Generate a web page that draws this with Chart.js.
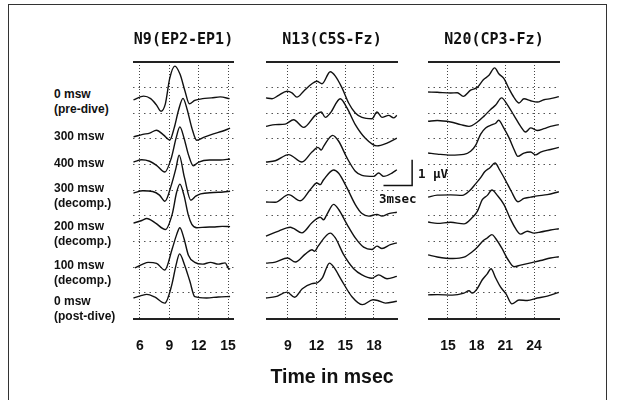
<!DOCTYPE html>
<html>
<head>
<meta charset="utf-8">
<script src="https://cdn.jsdelivr.net/npm/chart.js@4.4.1/dist/chart.umd.min.js"></script>
<style>
  body { margin: 0; background: #fff; }
  #page { position: relative; width: 617px; height: 400px; overflow: hidden; background: #fff; }
  #frame { position: absolute; left: 8px; top: 4px; width: 599px; height: 430px; border: 1.5px solid #333; box-sizing: border-box; }
  canvas { position: absolute; top: 0; }
  .row { position: absolute; left: 54px; font: bold 12px 'Liberation Sans', Arial, sans-serif; line-height: 15px; color: #111; white-space: nowrap; }
  .note { position: absolute; font: bold 12.5px 'DejaVu Sans Mono', monospace; color: #111; white-space: nowrap; }
</style>
</head>
<body>
<div id="page">
  <div id="frame"></div>
  <canvas id="n9" width="141" height="400" style="left:113px"></canvas>
  <canvas id="n13" width="172" height="400" style="left:246px"></canvas>
  <canvas id="n20" width="172" height="400" style="left:408px"></canvas>
  <div class="note" style="left:418px; top:166px">1 &mu;V</div>
  <div class="note" style="left:379px; top:191px">3msec</div>
</div>
<script>
// labels
const panelTitles = ['N9(EP2-EP1)', 'N13(C5S-Fz)', 'N20(CP3-Fz)'];
const rowLabels = [
  ['0 msw', '(pre-dive)'], ['300 msw'], ['400 msw'], ['300 msw', '(decomp.)'],
  ['200 msw', '(decomp.)'], ['100 msw', '(decomp.)'], ['0 msw', '(post-dive)']
];
const n9Ticks = [6, 9, 12, 15];
const n13Ticks = [9, 12, 15, 18];
const n20Ticks = [15, 18, 21, 24];
const gridRows = [0, 1, 2, 3, 4, 5, 6, 7, 8, 9, 10];

// N9: time (msec) and amplitude (uV) for each trace, stacked on a baseline
const n9Baselines = [8.52, 7.08, 6.10, 4.89, 3.72, 1.97, 0.80];
const n9Times = [
  [5.35, 6.4, 7.1, 7.7, 8.15, 8.6, 9.05, 9.57, 10.1, 10.6, 11.05, 11.6, 12.4, 13.3, 14.2, 15.15],
  [5.35, 6.3, 7.0, 7.7, 8.4, 9.05, 9.5, 9.95, 10.4, 10.8, 11.3, 11.8, 12.5, 13.5, 14.4, 15.2],
  [5.35, 6.2, 7.0, 7.7, 8.55, 9.2, 9.7, 10.08, 10.5, 10.95, 11.45, 12.0, 13.1, 14.2, 15.2],
  [5.35, 6.3, 7.3, 8.0, 8.55, 9.2, 9.7, 10.0, 10.55, 11.2, 11.7, 12.2, 13.5, 14.5, 15.2],
  [5.35, 6.2, 6.7, 7.6, 8.6, 9.3, 9.75, 10.08, 10.5, 10.95, 11.3, 11.8, 12.7, 13.5, 14.4, 15.2],
  [5.5, 6.3, 6.85, 7.7, 8.55, 9.3, 9.75, 10.08, 10.5, 10.95, 11.6, 12.4, 13.2, 14.0, 14.7, 15.0, 15.2],
  [5.35, 6.2, 6.7, 7.5, 8.55, 9.25, 9.7, 10.05, 10.55, 11.1, 11.6, 12.8, 14.0, 15.2]
];
const n9Values = [
  [0, 0.15, 0.05, -0.2, -0.44, -0.15, 0.85, 1.32, 1.0, 0.35, -0.15, -0.02, 0.05, 0.08, 0.12, 0.05],
  [0, 0.1, 0.15, 0.26, 0.08, -0.12, 0.35, 1.05, 1.5, 1.1, 0.35, -0.13, -0.02, 0.12, 0.22, 0.34],
  [0, 0.09, 0.03, -0.13, -0.39, 0.15, 0.94, 1.37, 0.94, 0.29, -0.15, 0, 0.08, 0.08, 0.12],
  [0, 0.09, 0.06, -0.08, -0.32, 0.3, 1.0, 1.48, 0.6, -0.28, -0.12, -0.03, 0.02, 0.04, 0.07],
  [0, 0.1, 0.18, 0.0, -0.25, 0.35, 1.2, 1.52, 1.08, 0.3, -0.05, -0.18, -0.16, -0.15, -0.13, -0.14],
  [0, 0.15, 0.22, 0.18, -0.08, 0.75, 1.3, 1.57, 1.15, 0.5, 0.22, 0.15, 0.22, 0.15, 0.2, 0.0, -0.05],
  [0, 0.1, 0.14, 0.04, -0.2, 0.5, 1.3, 1.72, 1.3, 0.65, 0.05, 0.0, 0.04, 0.06]
];

// N13
const n13Baselines = [8.6, 7.49, 6.1, 4.54, 3.21, 2.16, 0.8];
const n13Times = [
  [6.7, 7.33, 8.02, 8.9, 9.42, 9.94, 10.64, 11.51, 12.03, 12.56, 13.43, 13.96, 14.66, 15.35, 16.05, 16.75, 17.8, 18.32, 18.84, 19.54, 20.06, 20.4],
  [6.7, 7.67, 8.72, 9.59, 10.64, 11.86, 12.49, 12.91, 13.43, 14.48, 15.18, 16.05, 17.1, 18.32, 19.37, 20.4],
  [6.7, 7.67, 9.07, 10.46, 11.51, 12.14, 12.49, 12.73, 13.68, 14.31, 15.18, 16.05, 16.75, 17.97, 18.49, 19.02, 19.89, 20.4],
  [6.7, 7.67, 9.07, 10.29, 11.33, 12.03, 12.38, 12.73, 13.78, 14.31, 15.18, 16.05, 16.75, 17.45, 18.32, 18.84, 19.54, 20.4],
  [6.7, 8.02, 9.24, 9.59, 10.46, 11.51, 12.38, 12.73, 13.08, 13.78, 14.31, 15.18, 16.05, 16.92, 17.8, 18.32, 18.84, 19.72, 20.4],
  [6.7, 7.67, 8.95, 9.77, 10.81, 11.51, 11.79, 12.14, 13.43, 13.96, 14.83, 15.88, 16.75, 17.8, 18.49, 19.37, 20.4],
  [6.7, 7.7, 8.9, 9.7, 10.5, 11.5, 12.1, 12.6, 13.35, 13.8, 14.6, 15.7, 16.8, 17.9, 18.4, 19.2, 20.4]
];
const n13Values = [
  [0, -0.03, 0.1, 0.26, 0.2, 0.03, 0.26, 0.55, 0.65, 0.55, 1.02, 0.85, 0.39, -0.2, -0.59, -0.76, -0.81, -0.55, -0.76, -0.68, -0.78, -0.68],
  [0, 0.07, 0.09, 0.26, -0.04, 0.43, 0.56, 0.35, 0.52, 1.08, 0.72, 0.07, -0.46, -0.76, -0.65, -0.46],
  [0, 0.05, 0.29, 0, 0.39, 0.57, 0.47, 0.61, 1.04, 0.81, 0.16, -0.36, -0.52, -0.56, -0.43, -0.56, -0.43, -0.3],
  [0, -0.01, 0.29, 0.05, 0.48, 0.74, 0.68, 0.87, 1.25, 1.12, 0.55, -0.1, -0.45, -0.55, -0.48, -0.55, -0.45, -0.4],
  [0, 0.2, 0.35, 0.3, 0.13, 0.52, 0.74, 0.64, 0.85, 1.24, 1.04, 0.46, -0.07, -0.43, -0.52, -0.39, -0.48, -0.33, -0.26],
  [0, 0.04, 0.2, 0.04, 0.35, 0.52, 0.46, 0.65, 1.17, 0.98, 0.33, -0.22, -0.46, -0.59, -0.46, -0.61, -0.52],
  [0, 0.05, 0.23, 0.03, 0.36, 0.56, 0.6, 0.78, 1.36, 1.2, 0.7, 0.05, -0.26, -0.07, -0.1, -0.2, -0.13]
];

// N20
const n20Baselines = [8.83, 7.69, 6.45, 4.73, 3.76, 2.48, 0.92];
const n20Times = [
  [12.92, 13.88, 15.28, 15.98, 16.6, 17.37, 18.07, 18.7, 19.29, 19.88, 20.34, 20.86, 21.38, 21.9, 22.43, 22.95, 23.65, 24.34, 25.04, 25.73, 26.6],
  [12.92, 13.88, 15.28, 16.33, 17.2, 18.07, 18.77, 19.46, 19.99, 20.61, 21.2, 21.9, 22.6, 23.12, 23.65, 24.34, 25.04, 25.73, 26.6],
  [12.92, 13.88, 15.28, 16.67, 17.37, 17.89, 18.42, 18.94, 19.64, 19.99, 20.3, 20.8, 21.38, 21.9, 22.3, 22.95, 23.65, 24.17, 24.69, 25.73, 26.6],
  [12.92, 13.88, 15.28, 16.5, 17.2, 17.89, 18.42, 18.84, 19.39, 19.92, 20.44, 21.03, 21.62, 22.32, 22.95, 23.65, 24.34, 25.39, 26.6],
  [12.92, 13.88, 15.28, 16.67, 17.54, 18.07, 18.59, 19.11, 19.6, 20.16, 20.86, 21.48, 22.08, 22.6, 23.3, 23.99, 24.69, 25.73, 26.6],
  [12.92, 13.88, 15.52, 16.67, 17.54, 18.07, 18.7, 19.11, 19.6, 19.99, 20.65, 21.27, 21.9, 22.6, 23.65, 24.69, 25.73, 26.6],
  [12.92, 13.88, 15.45, 16.67, 17.2, 17.54, 18.07, 18.59, 19.11, 19.5, 19.99, 20.51, 21.07, 21.69, 22.43, 23.3, 24.34, 25.39, 26.6]
];
const n20Values = [
  [0, -0.01, -0.04, -0.03, -0.17, 0.07, 0.18, 0.48, 0.65, 0.94, 0.7, 0.52, 0.13, -0.21, -0.43, -0.26, -0.34, -0.39, -0.3, -0.26, -0.18],
  [0, 0.03, -0.03, -0.13, -0.2, -0.03, 0.2, 0.46, 0.63, 0.91, 0.65, 0.23, -0.2, -0.42, -0.26, -0.36, -0.29, -0.2, -0.13],
  [0, -0.04, -0.08, -0.05, 0.07, 0.3, 0.74, 0.98, 1.11, 1.16, 1.28, 1.0, 0.6, 0.15, -0.13, 0, 0.04, -0.07, 0.04, 0.14, 0.22],
  [0, 0.08, 0.09, 0.07, 0.23, 0.52, 0.76, 0.99, 1.15, 1.33, 1.04, 0.65, 0.23, -0.18, -0.05, 0, 0.05, 0.1, 0.21],
  [0, -0.05, -0.01, -0.07, 0.18, 0.42, 0.87, 1.04, 1.25, 1.04, 0.68, 0.16, -0.26, -0.47, -0.36, -0.43, -0.39, -0.31, -0.26],
  [0, -0.08, -0.14, -0.09, 0.12, 0.3, 0.56, 0.66, 0.79, 0.64, 0.25, -0.18, -0.46, -0.4, -0.31, -0.22, -0.12, -0.07],
  [0, 0.01, -0.01, 0.07, 0.16, 0.07, 0.25, 0.59, 0.82, 1.02, 0.66, 0.3, 0.04, -0.35, -0.2, -0.22, -0.12, -0.05, 0.1]
];

// calibration bar: 1 uV up, 3 msec across, in the N13 panel's units
const scaleBarTime = [22.0, 22.0, 19.0];
const scaleBarLevel = [6.19, 5.19, 5.19];

// row labels on the left
const rowTops = [87, 129, 156, 181, 218.5, 257.5, 294];
rowLabels.forEach((lines, i) => {
  const d = document.createElement('div');
  d.className = 'row';
  d.style.top = rowTops[i] + 'px';
  d.innerHTML = lines.join('<br>');
  document.getElementById('page').appendChild(d);
});

const ink = '#111';
const isEdge = c => c.tick && (c.tick.value === 0 || c.tick.value === 10);

function makePanel(id, title, ticks, min, max, times, values, baselines, opts) {
  const datasets = times.map((ts, i) => ({
    data: ts.map((t, j) => ({ x: t, y: baselines[i] + values[i][j] })),
    borderColor: ink,
    borderWidth: 1.4,
    pointRadius: 0,
    cubicInterpolationMode: 'monotone',
    fill: false,
    clip: false
  }));
  if (opts.extra) datasets.push(opts.extra);

  return new Chart(document.getElementById(id), {
    type: 'line',
    data: { datasets },
    options: {
      responsive: false,
      animation: false,
      layout: { padding: { top: 31, left: 20, right: 20, bottom: opts.bottom } },
      plugins: {
        legend: { display: false },
        tooltip: { enabled: false },
        title: {
          display: true,
          text: title,
          color: ink,
          font: { family: "'DejaVu Sans Mono', monospace", size: 15, weight: 'bold' },
          padding: { top: 0, bottom: 13 }
        }
      },
      scales: {
        x: {
          type: 'linear',
          min: min,
          max: max,
          afterBuildTicks: s => { s.ticks = ticks.map(v => ({ value: v })); },
          ticks: {
            autoSkip: false,
            maxRotation: 0,
            padding: 3,
            color: ink,
            font: { family: "'Liberation Sans Narrow', 'Liberation Sans', sans-serif", size: 14, weight: 'bold' }
          },
          grid: { color: '#444', lineWidth: 1, drawTicks: true, tickLength: 16.5, tickColor: 'rgba(0,0,0,0)' },
          border: { display: false, dash: [1, 2] },
          title: opts.axisTitle ? {
            display: true,
            text: opts.axisTitle,
            color: ink,
            font: { family: "'Liberation Sans', Arial, sans-serif", size: 19.5, weight: 'bold' },
            padding: { top: 8.5, bottom: 0 }
          } : { display: false }
        },
        y: {
          type: 'linear',
          min: 0,
          max: 10,
          afterBuildTicks: s => { s.ticks = gridRows.map(v => ({ value: v })); },
          ticks: { display: false },
          grid: {
            drawTicks: false,
            color: c => isEdge(c) ? '#222' : '#555',
            lineWidth: c => isEdge(c) ? 2 : 1
          },
          border: { display: false, dash: c => isEdge(c) ? [] : [1.5, 4] }
        }
      }
    }
  });
}

makePanel('n9', panelTitles[0], n9Ticks, 5.3, 15.6, n9Times, n9Values, n9Baselines, { bottom: 42.2 });

makePanel('n13', panelTitles[1], n13Ticks, 6.7, 20.52, n13Times, n13Values, n13Baselines, {
  bottom: 10.3,
  axisTitle: 'Time in msec',
  extra: {
    data: scaleBarTime.map((t, i) => ({ x: t, y: scaleBarLevel[i] })),
    borderColor: ink,
    borderWidth: 1.5,
    pointRadius: 0,
    tension: 0,
    fill: false,
    clip: false
  }
});

makePanel('n20', panelTitles[2], n20Ticks, 12.91, 26.72, n20Times, n20Values, n20Baselines, { bottom: 42.2 });
</script>
</body>
</html>
